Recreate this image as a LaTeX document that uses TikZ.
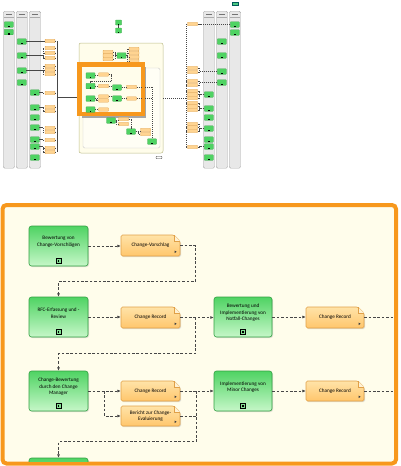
\documentclass[tikz,border=0pt]{standalone}
\usepackage{fontspec}
\setmainfont{Carlito}
\usetikzlibrary{arrows.meta,shadows,calc}
\definecolor{frameor}{HTML}{F7981D}
\definecolor{cream}{HTML}{FFFDEB}
\definecolor{gtop}{HTML}{4FD363}
\definecolor{gbot}{HTML}{C6F7C8}
\definecolor{gdraw}{HTML}{33A043}
\definecolor{otop}{HTML}{FFE3A8}
\definecolor{obot}{HTML}{FFC66C}
\definecolor{odraw}{HTML}{E0A048}
\definecolor{lanefill}{HTML}{E8E8E8}
\definecolor{lanedraw}{HTML}{ABABAB}
\definecolor{flowcol}{HTML}{474747}
\tikzset{
 actshape/.style={draw=gdraw, line width=0.6pt, top color=gtop, bottom color=gbot, rounded corners=2.5pt, inner sep=0,
   drop shadow={opacity=0.25, shadow xshift=1pt, shadow yshift=-1pt}},
 acttext/.style={font=\fontsize{5.2}{6.5}\selectfont, align=center, text=black, inner sep=0},
 docsh/.style={draw=odraw, line width=0.6pt, top color=otop, bottom color=obot,
   drop shadow={opacity=0.25, shadow xshift=1pt, shadow yshift=-1pt}},
 doctext/.style={font=\fontsize{5.2}{6.5}\selectfont, align=center, text=black, inner sep=0},
 flow/.style={draw=flowcol, line width=0.6pt, dash pattern=on 2.6pt off 1.8pt, -{Latex[length=3.4pt,width=3pt]}},
 flowplain/.style={draw=flowcol, line width=0.6pt, dash pattern=on 2.6pt off 1.8pt},
 lane/.style={draw=lanedraw, fill=lanefill, rounded corners=1.5pt, line width=0.4pt, inner sep=0, minimum width=11.5pt, minimum height=157pt, anchor=north west},
 sg/.style={draw=gdraw, fill=gtop, minimum width=9pt, minimum height=5.5pt, inner sep=0, line width=0.3pt, rounded corners=0.5pt},
 sgt/.style={draw=gdraw, fill=gtop, minimum width=6pt, minimum height=5pt, inner sep=0, line width=0.3pt, rounded corners=0.5pt},
 so/.style={draw=odraw, fill=obot!75!white, minimum width=10pt, minimum height=3.4pt, inner sep=0, rounded corners=0.6pt, line width=0.3pt},
 od/.style={draw=flowcol, line width=0.4pt, dash pattern=on 1.2pt off 0.8pt},
 ospine/.style={draw=flowcol, line width=0.6pt},
}
\newcommand\mkact[6]{%
 \node[actshape, minimum width={(#4-#2)*1pt}, minimum height={(#5-#3)*1pt}] (#1) at ({(#2+#4)/2},{(#3+#5)/2}) {};
 \node[acttext] (#1t) at ([yshift=4pt]#1.center) {#6};
 \draw[line width=0.6pt, fill=gtop!70] ($(#1.south)+(-2.5,-8)$) rectangle ++(5,5);
 \fill ($(#1.south)+(-0.8,-6.3)$) rectangle ++(1.6,1.6);
}
\newcommand\mkdoc[6]{%
 \path[docsh] (#2,#5) [rounded corners=1.5pt] -- (#2,#3) -- (#4-6,#3) -- (#4,#3+6) -- (#4,#5) -- cycle;
 \filldraw[draw=odraw, fill=otop!50!white, line width=0.5pt] (#4-6,#3) -- (#4-6,#3+6) -- (#4,#3+6);
 \fill[black!75] (#4-5.5,#5-5.5) -- ++(2.2,1.3) -- ++(-2.2,1.3) -- cycle;
 \node[doctext, minimum width={(#4-#2)*1pt}, minimum height={(#5-#3)*1pt}] (#1) at ({(#2+#4)/2},{(#3+#5)/2}) {#6};
}
\begin{document}
\begin{tikzpicture}[x=1pt,y=-1pt]
\useasboundingbox (0,0) rectangle (400,466);
% ================= overview =================
\foreach \n/\x in {la/3, lb/16, lc/29, ld/203, le/216, lf/229}{
  \node[lane] (\n) at (\x,11) {};
  \draw[lanedraw, line width=0.3pt] ($(\n.north west)+(0.8,6)$) -- ($(\n.north east)+(-0.8,6)$);
  \draw[black!55, line width=0.5pt] ($(\n.north)+(-3,2.8)$) -- ($(\n.north)+(3,2.8)$);
}
% left greens
\foreach \n/\x/\y in {oa1/8.75/24.5, oa2/8.75/32, ob1/21.75/41.5, ob2/21.75/55.5, ob3/21.75/70.5, ob4/21.75/82.5,
  oc1/34.75/92.5, oc2/34.75/107.5, oc3/34.75/117.5, oc4/34.75/127.5, oc5/34.75/139.5, oc6/34.75/146.5, oc7/34.75/157.5,
  of1/234.75/24.5, of2/234.75/32.5, oe1/221.75/41.5, oe2/221.75/55.5, oe3/221.75/71.5, oe4/221.75/82.5,
  od1/208.75/94.5, od2/208.75/108.5, od3/208.75/117.5, od4/208.75/128.5, od5/208.75/139.5, od6/208.75/146.5, od7/208.75/157.5}{
  \node[sg] (\n) at (\x,\y) {};
  \fill[black] ($(\n.south)+(-0.8,-0.4)$) rectangle ++(1.6,-1.4);
}
% left docs
\foreach \n/\y in {ol1/41, ol2/48, ol3/53, ol4/58, ol5/66, ol6/70, ol7/74, ol8/93, ol9/107, ol10/111, ol11/128, ol12/132, ol13/140, ol14/148, ol15/152}{
  \node[so] (\n) at (50,\y) {};
}
\foreach \n/\y in {or1/24, or2/68, or3/72, or4/81, or5/85, or6/91, or7/94.5, or8/98, or9/103, or10/106.5, or11/110, or12/124, or13/127.5, or14/131, or15/147}{
  \node[so] (\n) at (192.5,\y) {};
}
\foreach \g/\d in {ob1/ol1, ob2/ol2, ob2/ol3, ob2/ol4, ob3/ol5, ob3/ol6, ob3/ol7, oc1/ol8, oc2/ol9, oc2/ol10, oc4/ol11, oc4/ol12, oc5/ol13, oc6/ol14, oc6/ol15}{
  \draw[od] (\g.east) -| ($(\d.west)+(-2,0)$) -- (\d.west);
}
\foreach \g/\d in {of1/or1, oe3/or2, oe3/or3, oe4/or4, oe4/or5, od1/or6, od1/or7, od1/or8, od2/or9, od2/or10, od2/or11, od4/or12, od4/or13, od4/or14, od6/or15}{
  \draw[od] (\g.west) -| ($(\d.east)+(2,0)$) -- (\d.east);
}
\coordinate (lsp1) at (57,41); \coordinate (lsp2) at (57,152); \coordinate (ljoin) at (57,97);
\coordinate (rsp1) at (186,24); \coordinate (rsp2) at (186,147); \coordinate (rjoin) at (186,98);
\draw[ospine] (lsp1) -- (lsp2);
\foreach \d in {ol1,ol2,ol3,ol4,ol5,ol6,ol7,ol8,ol9,ol10,ol11,ol12,ol13,ol14,ol15}{\draw[od] (\d.east) -- (\d.east -| lsp1);}
\draw[od] (rsp1) -- (rsp2);
\foreach \d in {or1,or2,or3,or4,or5,or6,or7,or8,or9,or10,or11,or12,or13,or14,or15}{\draw[od] (\d.west) -- (\d.west -| rsp1);}
% top greens
\node[sgt] (ot1) at (118.5,22.5) {};
\node[sgt] (ot2) at (118.5,30.5) {};
\draw[flowcol, line width=0.4pt] (ot1) -- (ot2);
\fill[black] ($(ot1.south)+(-0.6,-0.4)$) rectangle ++(1.2,-1.2);
\fill[black] ($(ot2.south)+(-0.6,-0.4)$) rectangle ++(1.2,-1.2);
\node[draw=teal!70!black, fill=teal!60!green!70, minimum width=6pt, minimum height=3pt, inner sep=0] (oicon) at (235,3.5) {};
% center container
\node[draw=lanedraw!80!yellow, fill=cream, rounded corners=2pt, line width=0.5pt, minimum width=84pt, minimum height=110pt, inner sep=0] (ocream) at (121,98) {};
\node[draw=lanedraw!60, fill=white!50!cream, rounded corners=1.5pt, line width=0.4pt, minimum width=77pt, minimum height=80pt, inner sep=0] (oinner) at (121.5,108) {};
\node[draw=black!35, line width=2.5pt, minimum width=62pt, minimum height=49pt, inner sep=0] (ogray) at (114,92.5) {};
\node[draw=frameor, fill=cream, line width=3pt, minimum width=62pt, minimum height=48pt, inner sep=0] (oof) at (111,89) {};
\draw[ospine] (ljoin) -- (ljoin -| oof.west);
\draw[od] (ocream.east |- rjoin) -- (rjoin);
% inside orange frame
\foreach \n/\x/\y in {oi1/90.5/75.5, oi2/90.5/86, oi3/90.5/98.5, oi4/90.5/109.5, oi5/117/87.5, oi6/117/98.5,
  oa9/121.5/55.5, obg1/111/120.5, obg2/131/131.5, oi9/152/141.5}{
  \node[sg] (\n) at (\x,\y) {};
  \fill[black] ($(\n.south)+(-0.8,-0.4)$) rectangle ++(1.6,-1.4);
}
\foreach \n/\x/\y in {oid1/103.5/74.5, oid2/103.5/86, oid3/103.5/96.5, oid4/103.5/100.5, oid5/103.5/109.5, oid6/131.5/87, oid7/131.5/98.5,
  oad1/108/52, oad2/108/55.5, oad3/108/59, oad4/134/49, oad5/134/53, oad6/134/57, oad7/134/61,
  obd1/123.5/119, obd2/123.5/124, obd3/145.5/130, obd4/145.5/134}{
  \node[so] (\n) at (\x,\y) {};
}
\foreach \a/\b in {oi1/oid1, oi2/oid2, oid2/oi5, oi5/oid6, oi3/oid3, oid3/oi6, oi6/oid7, oi4/oid5, oad2/oa9, obg1/obd1, obg2/obd3}{
  \draw[od] (\a.east) -- (\a.east -| \b.west);
}
\draw[od] (oi3.east) -| ($(oid4.west)+(-2,0)$) -- (oid4.west);
\draw[od] (oid1.east) -- ++(3,0) |- ($(oi2.north)+(0,-2)$) -- (oi2.north);
\foreach \d in {oad4,oad5,oad6,oad7}{\draw[od] (oa9.east) -| ($(\d.west)+(-2,0)$) -- (\d.west);}
\foreach \d in {oad1,oad3}{\draw[od] (\d.east) -| ($(oa9.west)+(-2,0)$) -- (oa9.west);}
\draw[od] (obg1.east) -| ($(obd2.west)+(-2,0)$) -- (obd2.west);
\draw[od] (obg2.east) -| ($(obd4.west)+(-2,0)$) -- (obd4.west);
\draw[od] (obd1.east) -- ++(3,0) |- ($(obg2.north)+(0,-2)$) -- (obg2.north);
\coordinate (ovs) at (152,87);
\draw[od] (oid6.east) -- (oid6.east -| ovs);
\draw[od] (oid7.east) -- (oid7.east -| ovs);
\draw[od] (ovs) -- (oi9.north);
\draw[frameor, line width=3pt] (oof.north west) rectangle (oof.south east);
\node[draw=black!75, fill=white, rounded corners=0.8pt, line width=0.4pt, minimum width=6pt, minimum height=2.5pt, inner sep=0] (osmall) at (159,157.5) {};
% ================= detail =================
\draw[frameor, line width=4pt, fill=cream, rounded corners=4pt] (2.5,205) rectangle (396,463.5);
\begin{scope}
\clip (4.5,207) rectangle (394,461.5);
\mkact{g1}{29}{226}{88}{266}{Bewertung von\\Change-Vorschlägen}
\mkact{g2}{29}{297}{88}{337}{RFC-Erfassung und -\\Review}
\mkact{g3}{29}{371}{88}{411}{Change-Bewertung\\durch den Change\\Manager}
\mkact{g4}{29}{458}{88}{498}{}
\mkact{g5}{214}{297}{272}{337}{Bewertung und\\Implementierung von\\Notfall-Changes}
\mkact{g6}{214}{371}{272}{411}{Implementierung von\\Minor Changes}
\mkdoc{d1}{121}{235}{180}{256}{Change-Vorschlag}
\mkdoc{d2}{121}{307}{180}{328}{Change Record}
\mkdoc{d3}{306}{307}{364}{328}{Change Record}
\mkdoc{d4}{121}{381}{180}{401}{Change Record}
\mkdoc{d5}{121}{406}{180}{426}{Bericht zur Change-\\Evaluierung}
\mkdoc{d6}{306}{381}{364}{401}{Change Record}
\draw[flow] (g1.east) -- (g1.east -| d1.west);
\draw[flow] (d1.east) -- ++(15,0) |- ($(g2.north)+(0,-15)$) -- (g2.north);
\draw[flow] (g2.east) -- (g2.east -| d2.west);
\draw[flow] (d2.east) -- (d2.east -| g5.west);
\draw[flow] ($(d2.east)+(15,0)$) |- ($(g3.north)+(0,-17)$) -- (g3.north);
\draw[flow] (g5.east) -- (g5.east -| d3.west);
\draw[flowplain] (d3.east) -- ++(40,0);
\draw[flow] (g3.east) -- (g3.east -| d4.west);
\draw[flow] ($(g3.east)!0.5!(g3.east -| d4.west)$) |- (d5.west);
\draw[flow] (d4.east) -- (d4.east -| g6.west);
\draw[flowplain] (d5.east) -- ++(16,0);
\draw[flow] ($(d4.east)+(16,0)$) |- ($(g4.north)+(0,-16)$) -- (g4.north);
\draw[flow] (g6.east) -- (g6.east -| d6.west);
\draw[flowplain] (d6.east) -- ++(40,0);
\end{scope}
\end{tikzpicture}
\end{document}
